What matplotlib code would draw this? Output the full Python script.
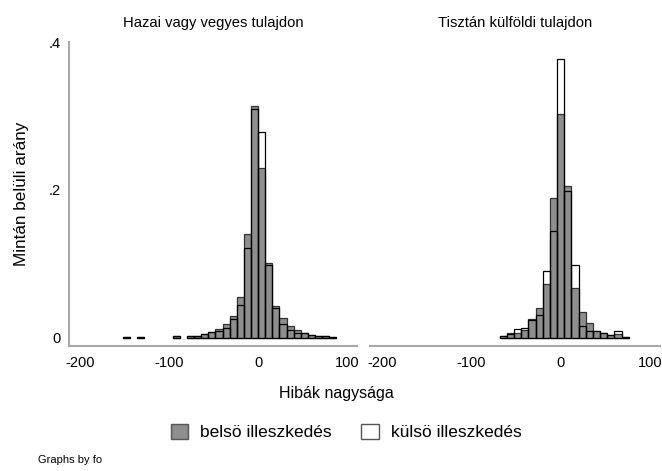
import numpy as np
import matplotlib
matplotlib.use('Agg')
from matplotlib import pyplot as plt
from matplotlib.patches import Patch

plt.rcParams['font.family'] = ['Liberation Sans', 'DejaVu Sans']

# Hazai vagy vegyes tulajdon: bin centers (width 8) and shares
bal_kozep = [-148, -132, -92, -76, -68, -60, -52, -44, -36, -28, -20, -12, -4,
             4, 12, 20, 28, 36, 44, 52, 60, 68, 76, 84]
bal_belso = [0.001, 0.001, 0.002, 0.002, 0.003, 0.005, 0.008, 0.012, 0.019, 0.029,
             0.055, 0.141, 0.313, 0.230, 0.101, 0.043, 0.027, 0.016, 0.010, 0.007,
             0.004, 0.003, 0.002, 0.001]
bal_kulso = [0.001, 0.001, 0.002, 0.002, 0.003, 0.005, 0.008, 0.009, 0.014, 0.026,
             0.044, 0.121, 0.310, 0.278, 0.098, 0.041, 0.019, 0.011, 0.007, 0.007,
             0.004, 0.003, 0.002, 0.001]

# Tisztán külföldi tulajdon
jobb_kozep = [-64, -56, -48, -40, -32, -24, -16, -8, 0,
              8, 16, 24, 32, 40, 48, 56, 64, 72]
jobb_belso = [0.003, 0.006, 0.006, 0.010, 0.025, 0.041, 0.073, 0.189, 0.303,
              0.205, 0.068, 0.035, 0.020, 0.009, 0.006, 0.0045, 0.005, 0.0015]
jobb_kulso = [0.002, 0.005, 0.012, 0.014, 0.024, 0.031, 0.090, 0.144, 0.377,
              0.199, 0.098, 0.016, 0.009, 0.009, 0.006, 0.0045, 0.0095, 0.0015]

cimek = ['Hazai vagy vegyes tulajdon', 'Tisztán külföldi tulajdon']
x_ticks = [-200, -100, 0, 100]
y_ticks = [0, 0.2, 0.4]
y_labels = ['0', '.2', '.4']

fig = plt.figure(figsize=(6.62, 4.71), dpi=100)
ax1 = fig.add_axes([0.104, 0.2654, 0.435, 0.6454])
ax2 = fig.add_axes([0.559, 0.2654, 0.438, 0.6454])

szurke = '#8e8e8e'
tengely = '#a8a8a8'

panelek = [(ax1, bal_kozep, bal_belso, bal_kulso),
           (ax2, jobb_kozep, jobb_belso, jobb_kulso)]
for i, (ax, kozep, belso, kulso) in enumerate(panelek):
    ax.bar(kozep, belso, width=8, color=szurke, edgecolor='#333333', linewidth=0.9)
    ax.bar(kozep, kulso, width=8, fill=False, edgecolor='black', linewidth=0.9)
    ax.set_xlim(-213, 111)
    ax.set_ylim(-0.011, 0.4)
    ax.set_xticks(x_ticks)
    ax.set_xticklabels([str(t) for t in x_ticks], fontsize=10.5)
    ax.tick_params(axis='x', length=0, pad=7)
    for s in ['top', 'right']:
        ax.spines[s].set_visible(False)
    ax.spines['bottom'].set_color(tengely)
    ax.spines['bottom'].set_linewidth(1.5)
    ax.set_title(cimek[i], fontsize=10.6, pad=11)
    if i == 0:
        ax.spines['left'].set_color(tengely)
        ax.spines['left'].set_linewidth(1.5)
        ax.set_yticks(y_ticks)
        ax.set_yticklabels(y_labels, fontsize=10.5)
        ax.tick_params(axis='y', length=0, pad=6)
        ax.set_ylabel('Mintán belüli arány', fontsize=12.3, labelpad=14)
    else:
        ax.spines['left'].set_visible(False)
        ax.set_yticks([])

fig.text(0.508, 0.165, 'Hibák nagysága', ha='center', va='center', fontsize=11.5)

jelek = [Patch(facecolor=szurke, edgecolor='#555555', label='belsö illeszkedés'),
         Patch(facecolor='white', edgecolor='#555555', label='külsö illeszkedés')]
fig.legend(handles=jelek, loc='center', bbox_to_anchor=(0.523, 0.083), ncol=2,
           frameon=False, fontsize=12.5, handlelength=1.0, handleheight=1.0,
           columnspacing=1.7, handletextpad=0.7)

fig.text(0.057, 0.013, 'Graphs by fo', fontsize=8, ha='left', va='bottom')

fig.savefig('out.png', dpi=100)
